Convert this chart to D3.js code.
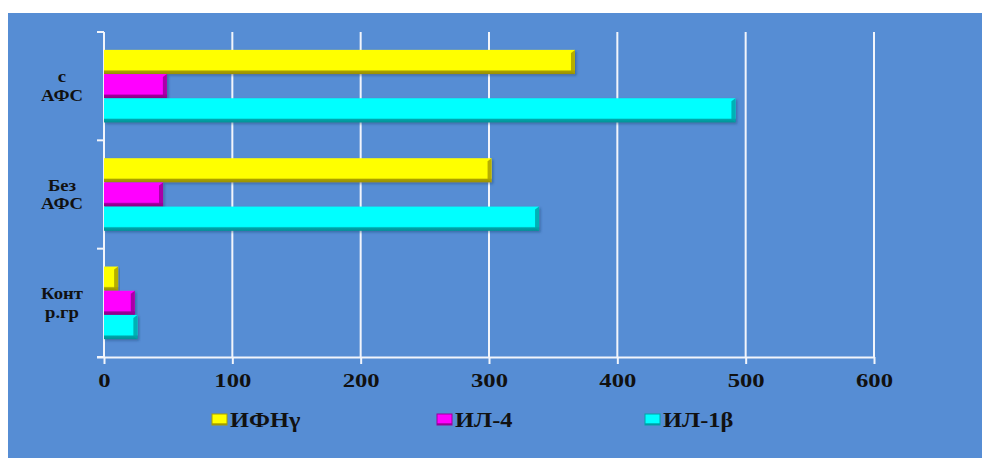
<!DOCTYPE html>
<html>
<head>
<meta charset="utf-8">
<script src="https://cdn.jsdelivr.net/npm/d3@7"></script>
<style>
  html, body { margin: 0; padding: 0; background: #ffffff; }
  svg { display: block; }
</style>
</head>
<body>
<svg id="chart" width="982" height="458"></svg>
<script>
// Groups, bottom to top as listed on the category axis
const categories = [
  ["Конт", "р.гр"],
  ["Без", "АФС"],
  ["с", "АФС"]
];
const seriesNames = ["ИФНγ", "ИЛ-4", "ИЛ-1β"];
const seriesColors = ["#ffff00", "#ff00ff", "#00ffff"];
const seriesShade = ["#a9a000", "#9a0099", "#00a3a8"];
// values per series, in category order
const ifng = [11, 302, 367];
const il4 = [24, 46, 49];
const il1b = [26, 339, 492];
const xTicks = [0, 100, 200, 300, 400, 500, 600];

const values = [ifng, il4, il1b];
const serif = "'Liberation Serif', 'Times New Roman', serif";
const svg = d3.select("#chart");

// panel background
svg.append("rect").attr("x", 8).attr("y", 13).attr("width", 974).attr("height", 445)
  .attr("fill", "#568dd4");

const plot = { left: 104, right: 874, top: 32, bottom: 357 };

const x = d3.scaleLinear().domain([0, 600]).range([plot.left, plot.right]);
const catIdx = d3.range(categories.length);
// first category sits at the bottom
const y = d3.scaleBand().domain(catIdx.slice().reverse())
  .range([plot.top, plot.bottom]).paddingInner(0.33).paddingOuter(0.165);
const ys = d3.scaleBand().domain(d3.range(seriesNames.length)).range([0, y.bandwidth()]);

// gradients for the bevelled bars
const defs = svg.append("defs");
seriesColors.forEach((c, i) => {
  const g = defs.append("linearGradient").attr("id", "g" + i)
    .attr("x1", 0).attr("y1", 0).attr("x2", 0).attr("y2", 1);
  g.append("stop").attr("offset", "0%").attr("stop-color", d3.color(c).brighter(0.3));
  g.append("stop").attr("offset", "12%").attr("stop-color", c);
  g.append("stop").attr("offset", "82%").attr("stop-color", c);
  g.append("stop").attr("offset", "88%").attr("stop-color", seriesShade[i]);
  g.append("stop").attr("offset", "100%").attr("stop-color", d3.color(seriesShade[i]).darker(0.3));
});
const shadow = defs.append("filter").attr("id", "sh")
  .attr("x", "-5%").attr("y", "-20%").attr("width", "115%").attr("height", "160%");
shadow.append("feDropShadow").attr("dx", 1.5).attr("dy", 1.5).attr("stdDeviation", 1)
  .attr("flood-color", "#1c3f6e").attr("flood-opacity", 0.45);

// vertical gridlines
svg.append("g").selectAll("line").data(xTicks.slice(1)).join("line")
  .attr("x1", d => x(d)).attr("x2", d => x(d))
  .attr("y1", plot.top).attr("y2", plot.bottom)
  .attr("stroke", "#f2f5fb").attr("stroke-width", 2);

// bottom value axis
const xAxis = svg.append("g").attr("transform", `translate(0,${plot.bottom})`)
  .call(d3.axisBottom(x).tickValues(xTicks).tickSize(7).tickPadding(10).tickSizeOuter(0));
xAxis.select(".domain").attr("stroke", "#f2f5fb").attr("stroke-width", 2)
  .attr("d", `M${plot.left - 7},0.5H${plot.right}`);
xAxis.selectAll(".tick line").attr("stroke", "#f2f5fb").attr("stroke-width", 2);
xAxis.selectAll(".tick text")
  .attr("font-family", serif)
  .attr("font-weight", "bold").attr("font-size", 19).attr("fill", "#111")
  .attr("dy", "0.71em")
  .attr("transform", "scale(1.3,1)");

// left category axis: line with ticks on the band boundaries
const edgeVals = d3.range(categories.length + 1)
  .map(k => plot.top + k * (plot.bottom - plot.top) / categories.length);
const yAx = svg.append("g");
yAx.append("line").attr("x1", plot.left).attr("x2", plot.left)
  .attr("y1", plot.top).attr("y2", plot.bottom)
  .attr("stroke", "#f2f5fb").attr("stroke-width", 2);
yAx.selectAll(".tk").data(edgeVals).join("line").attr("class", "tk")
  .attr("x1", plot.left - 7).attr("x2", plot.left)
  .attr("y1", d => d).attr("y2", d => d)
  .attr("stroke", "#f2f5fb").attr("stroke-width", 2);

// category labels (two lines each)
const labels = svg.append("g")
  .attr("font-family", serif)
  .attr("font-weight", "bold").attr("font-size", 17).attr("fill", "#111")
  .attr("text-anchor", "middle");
catIdx.forEach(i => {
  const cy = y(i) + y.bandwidth() / 2;
  const t = labels.append("text")
    .attr("transform", `translate(62,${cy - 4}) scale(1.1,1)`);
  t.append("tspan").attr("x", 0).attr("y", 0).text(categories[i][0]);
  t.append("tspan").attr("x", 0).attr("dy", 19).text(categories[i][1]);
});

// bars
const bars = svg.append("g");
seriesNames.forEach((s, si) => {
  catIdx.forEach(ci => {
    const v = values[si][ci];
    const y0 = y(ci) + ys(si);
    const h = ys.bandwidth();
    const w = x(v) - x(0);
    const g = bars.append("g").attr("filter", "url(#sh)");
    g.append("rect").attr("x", x(0)).attr("y", y0).attr("width", w).attr("height", h)
      .attr("fill", `url(#g${si})`);
    // bevelled right end
    const bw = Math.min(4, w / 3);
    g.append("path")
      .attr("d", `M${x(v) - bw},${y0 + 3}L${x(v)},${y0}L${x(v)},${y0 + h}L${x(v) - bw},${y0 + h - 3}Z`)
      .attr("fill", seriesShade[si]).attr("opacity", 0.85);
  });
});

// legend
const legendX = [212, 437, 645];
const lg = svg.append("g");
seriesNames.forEach((s, i) => {
  lg.append("rect").attr("x", legendX[i]).attr("y", 414).attr("width", 15).attr("height", 11)
    .attr("fill", `url(#g${i})`).attr("stroke", seriesShade[i]).attr("stroke-width", 1);
  lg.append("text")
    .attr("transform", `translate(${legendX[i] + 18},427) scale(1.22,1)`)
    .attr("font-family", serif)
    .attr("font-weight", "bold").attr("font-size", 20).attr("fill", "#111")
    .text(s);
});
</script>
</body>
</html>
